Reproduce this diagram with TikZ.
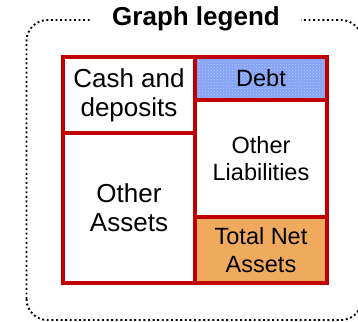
\documentclass[tikz,border=0pt]{standalone}
\usepackage{fontspec}
\setmainfont{Liberation Sans}
\usepackage{xcolor}
\usepackage{tikz}
\usetikzlibrary{positioning, patterns}
\definecolor{boxred}{HTML}{C00000}
\definecolor{debtblue}{HTML}{84A2F6}
\definecolor{netorange}{HTML}{F0AA5E}
\tikzset{
    frame/.style={draw=black, line width=1.9pt, dash pattern=on 1.9pt off 2.7pt, rounded corners=21pt},
    title/.style={fill=white, inner xsep=21pt, inner ysep=2pt, font=\fontsize{26}{30}\selectfont\bfseries},
    cell/.style={rectangle, draw=boxred, line width=3.5pt, outer sep=0pt, minimum width=132pt, align=center, fill=white},
    assetcell/.style={cell, font=\fontsize{26}{29}\selectfont},
    claimcell/.style={cell, font=\fontsize{23.5}{27.5}\selectfont},
    debtcell/.style={claimcell, fill=none, preaction={fill=debtblue}, pattern=crosshatch dots, pattern color=white!45!debtblue}
}

\begin{document}
\begin{tikzpicture}[x=1pt, y=1pt]
    \useasboundingbox (0,0) rectangle (358,321);
    \begin{scope}
    \clip (0,0) rectangle (358,321);
    \draw [frame] (26.5,1) rectangle (362,301);
    \end{scope}
    \node [title] (head) at (196,302.5) {Graph legend};

    % assets column
    \node [assetcell, minimum height=76pt] (cash) at (129,226) {Cash and\\deposits};
    \node [assetcell, minimum height=150pt, below=0pt of cash] (othassets) {Other\\Assets};

    % liabilities column
    \node [debtcell, minimum height=43pt, anchor=north west] (debt) at (cash.north east) {Debt};
    \node [claimcell, minimum height=117pt, below=0pt of debt] (othliab) {Other\\Liabilities};
    \node [claimcell, minimum height=66pt, below=0pt of othliab, fill=netorange] (netassets) {Total Net\\Assets};
\end{tikzpicture}
\end{document}
